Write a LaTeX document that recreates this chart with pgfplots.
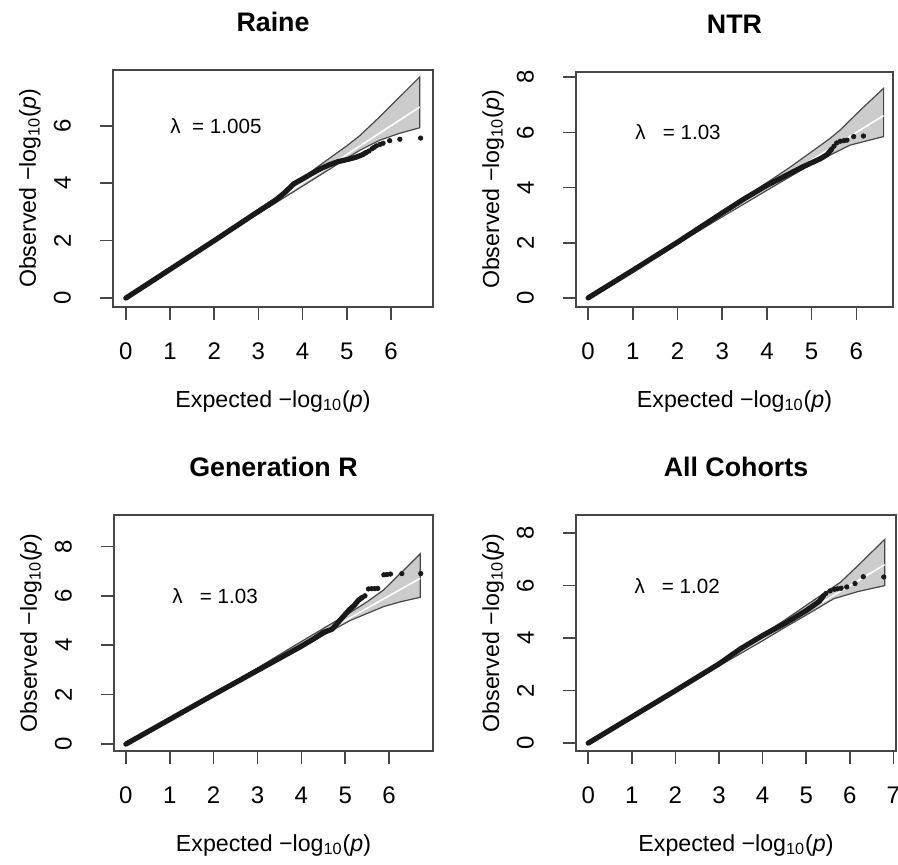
\documentclass[border=0pt]{standalone}
\usepackage{fontspec}
\setmainfont{Liberation Sans}
\usepackage{pgfplots}
\pgfplotsset{compat=1.18}

\definecolor{band}{gray}{0.80}
\definecolor{edge}{gray}{0.28}
\definecolor{pts}{gray}{0.10}

\newcommand{\lab}{\fontsize{11.6}{13}\selectfont}
\newcommand{\tk}{\fontsize{12}{14}\selectfont}

\tikzset{lam/.style={anchor=west, font=\fontsize{10.3}{12}\selectfont}}

\pgfplotsset{
  qq/.style={
    scale only axis,
    axis line style={edge, line width=0.8pt},
    tick style={edge, line width=0.8pt},
    tick align=outside,
    major tick length=6.5pt,
    xtick pos=bottom, ytick pos=left,
    /pgf/number format/assume math mode=true,
    ticklabel style={font=\tk},
    yticklabel style={rotate=90},
    xticklabel shift=8pt,
    yticklabel shift=11pt,
    title style={font=\fontsize{13.4}{15}\selectfont\bfseries, at={(0.5,1)}, anchor=center, yshift=18pt},
    every axis x label/.style={at={(0.5,0)}, anchor=center, yshift=-47pt, font=\lab},
    every axis y label/.style={at={(0,0.5)}, anchor=center, xshift=-41.5pt, rotate=90, font=\lab},
    xlabel={Expected −log\textsubscript{10}(\textit{p})},
    ylabel={Observed  −log\textsubscript{10}(\textit{p})},
  },
  band/.style={fill=band, draw=edge, line width=0.6pt},
  diag/.style={white, line width=0.8pt},
  body/.style={pts, line width=2.6pt, line cap=round, line join=round},
  tail/.style={only marks, mark=*, mark size=1.1pt, pts},
}

\begin{document}
\begin{tikzpicture}
\path[use as bounding box] (0,0) rectangle (449pt,-432pt);

% Raine
\begin{axis}[qq, at={(56.5pt,-153.5pt)}, anchor=south west,
  width=160pt, height=118.5pt,
  xmin=-0.29, xmax=6.95, ymin=-0.31, ymax=7.94,
  xtick={0,...,6}, ytick={0,2,4,6}, title={Raine}]
\addplot[band] coordinates {(0,0)(3,3.08)(3.5,3.62)(4,4.18)(4.5,4.75)(5,5.3)(5.29,5.65)(5.75,6.32)(6.2,7.01)(6.65,7.7)
  (6.65,5.93)(6.2,5.74)(5.75,5.5)(5.3,5.15)(5,4.87)(4.5,4.38)(4,3.9)(3.5,3.42)(3,2.94)} -- cycle;
\addplot[diag] coordinates {(0,0)(6.65,6.65)};
\addplot[body] coordinates {(0,0)(1,1)(2,2)(3,3.02)(3.4,3.42)(3.6,3.68)(3.8,3.98)(4,4.15)(4.2,4.33)(4.4,4.5)(4.6,4.64)(4.8,4.75)(5,4.82)(5.2,4.9)(5.35,4.99)(5.45,5.08)};
\addplot[tail] coordinates {(5.5,5.12)(5.57,5.2)(5.62,5.25)(5.67,5.3)(5.75,5.35)(5.82,5.39)(5.97,5.48)(6.2,5.53)(6.67,5.57)};
\node[lam] at (axis cs:0.85,6) {λ \ = 1.005};
\end{axis}

% NTR
\begin{axis}[qq, at={(288pt,-153.5pt)}, anchor=south west,
  width=158.5pt, height=117.5pt,
  xmin=-0.27, xmax=6.82, ymin=-0.33, ymax=8.19,
  xtick={0,...,6}, ytick={0,2,4,6,8}, title={NTR}]
\addplot[band] coordinates {(0,0)(3,3.08)(4,4.18)(4.5,4.72)(5,5.3)(5.41,5.78)(5.64,6.09)(6.09,6.81)(6.61,7.6)
  (6.61,5.85)(5.86,5.54)(5.34,5.12)(5,4.85)(4.5,4.38)(4,3.9)(3,2.94)} -- cycle;
\addplot[diag] coordinates {(0,0)(6.61,6.61)};
\addplot[body] coordinates {(0,0)(1,1)(2,2.02)(3,3.08)(3.5,3.6)(4,4.08)(4.5,4.5)(4.8,4.75)(5,4.9)(5.2,5.05)(5.35,5.2)(5.45,5.4)};
\addplot[tail] coordinates {(5.5,5.5)(5.56,5.62)(5.64,5.68)(5.72,5.7)(5.79,5.72)(5.94,5.85)(6.16,5.87)};
\node[lam] at (axis cs:0.9,6) {λ \ \ = 1.03};
\end{axis}

% Generation R
\begin{axis}[qq, at={(57pt,-375.5pt)}, anchor=south west,
  width=159.5pt, height=118pt,
  xmin=-0.27, xmax=7.0, ymin=-0.28, ymax=9.27,
  xtick={0,...,6}, ytick={0,2,4,6,8}, title={Generation R}]
\addplot[band] coordinates {(0,0)(3,3.08)(4,4.15)(4.5,4.68)(5,5.2)(5.5,5.76)(5.87,6.23)(6.26,6.91)(6.71,7.7)
  (6.71,5.94)(6.26,5.76)(5.87,5.56)(5.11,5.0)(4.5,4.4)(4,3.9)(3,2.94)} -- cycle;
\addplot[diag] coordinates {(0,0)(6.71,6.71)};
\addplot[body] coordinates {(0,0)(1,1)(2,2)(3,2.98)(4,3.96)(4.3,4.28)(4.5,4.52)(4.7,4.65)(4.85,4.95)(5,5.25)(5.1,5.45)(5.2,5.6)(5.3,5.82)(5.4,5.95)};
\addplot[tail] coordinates {(5.45,6)(5.53,6.28)(5.6,6.29)(5.67,6.29)(5.74,6.3)(5.88,6.85)(5.95,6.86)(6.03,6.88)(6.29,6.9)(6.72,6.9)};
\node[lam] at (axis cs:0.9,6) {λ \ \ = 1.03};
\end{axis}

% All Cohorts
\begin{axis}[qq, at={(288pt,-375.5pt)}, anchor=south west,
  width=160pt, height=118pt,
  xmin=-0.28, xmax=7.06, ymin=-0.3, ymax=8.69,
  xtick={0,...,7}, ytick={0,2,4,6,8}, title={All Cohorts}]
\addplot[band] coordinates {(0,0)(3,3.08)(4,4.15)(4.5,4.68)(5,5.25)(5.4,5.7)(5.78,6.12)(6.16,6.72)(6.8,7.76)
  (6.8,6)(6.2,5.78)(5.63,5.5)(5,4.88)(4.5,4.4)(4,3.9)(3,2.94)} -- cycle;
\addplot[diag] coordinates {(0,0)(6.8,6.8)};
\addplot[body] coordinates {(0,0)(1,1)(2,2)(3,3.02)(3.5,3.6)(4,4.1)(4.5,4.55)(5,5.05)(5.3,5.4)(5.4,5.62)};
\addplot[tail] coordinates {(5.45,5.7)(5.55,5.8)(5.65,5.86)(5.72,5.88)(5.8,5.9)(5.93,5.95)(6.12,6.08)(6.31,6.34)(6.78,6.33)};
\node[lam] at (axis cs:0.9,6) {λ \ \ = 1.02};
\end{axis}
\end{tikzpicture}
\end{document}
